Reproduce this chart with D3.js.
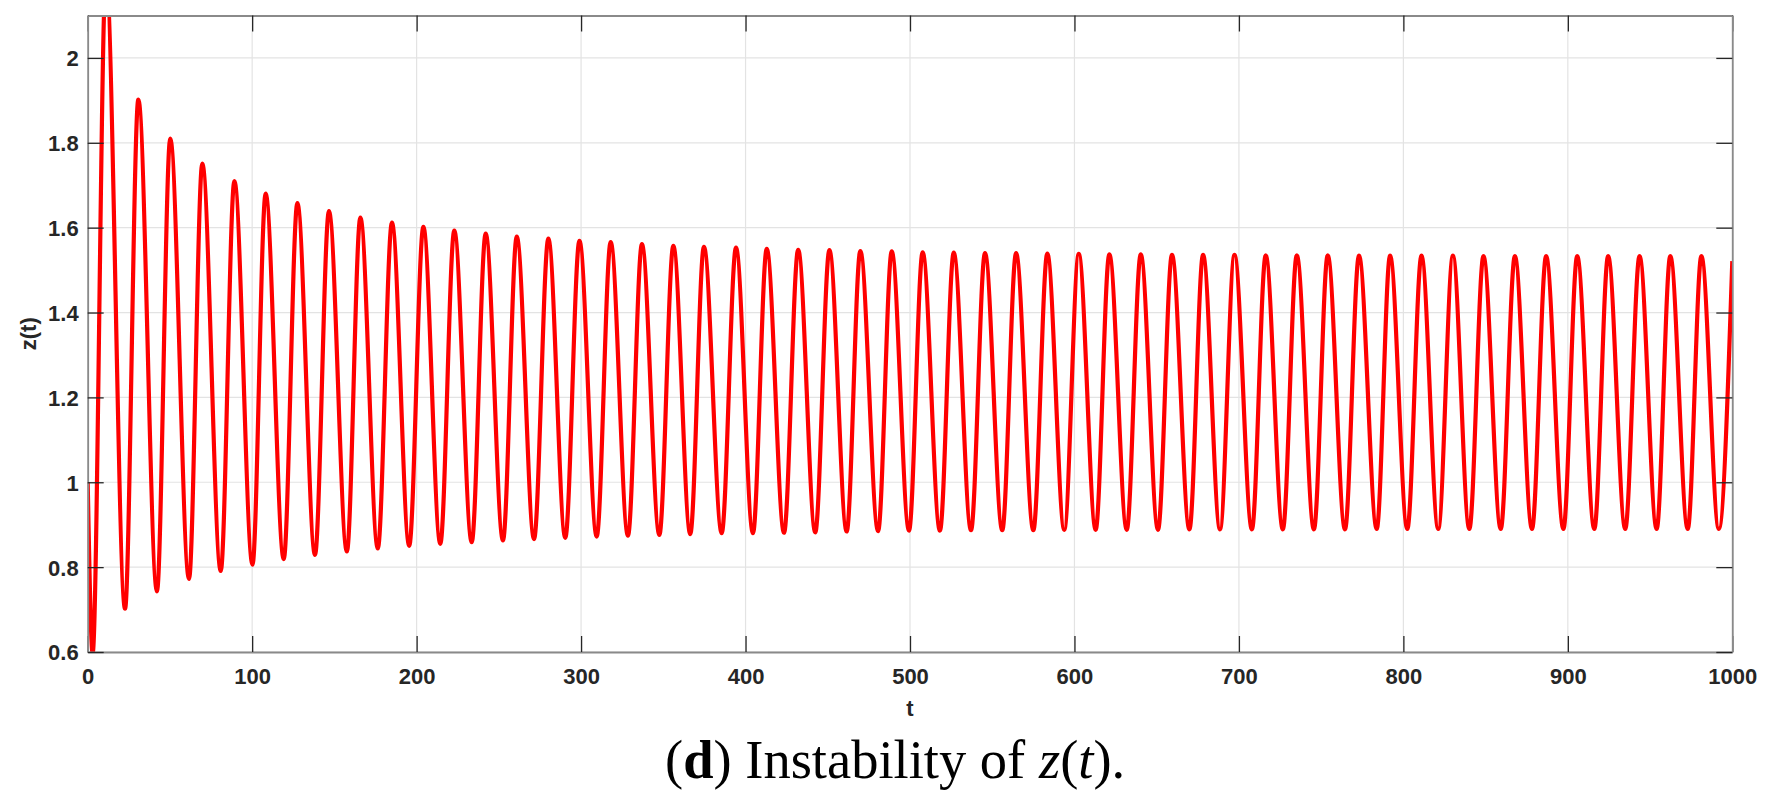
<!DOCTYPE html>
<html>
<head>
<meta charset="utf-8">
<script src="https://cdn.jsdelivr.net/npm/d3@7"></script>
<style>
  html, body { margin: 0; padding: 0; background: #fff; }
  svg { display: block; }
</style>
</head>
<body>
<div id="chart"></div>
<script>
// values: start, every trough, every peak, end
const startPoint = [0, 1.0];
const endPoint = [1000, 1.521];

const troughTimes = [3.0, 22.7, 42.1, 61.6, 80.9, 100.2, 119.2, 138.2, 157.6, 176.4,
  195.5, 214.4, 233.5, 252.5, 271.4, 290.4, 309.5, 328.5, 347.6, 366.4,
  385.5, 404.5, 423.4, 442.4, 461.5, 480.6, 499.4, 518.2, 537.1, 556.1,
  575.0, 593.8, 612.9, 631.8, 650.8, 669.9, 688.5, 707.9, 726.7, 745.6,
  764.5, 783.8, 802.4, 821.2, 840.1, 859.2, 878.2, 897.3, 916.1, 934.9,
  954.0, 972.9, 991.8];
const troughValues = [0.597, 0.702, 0.743, 0.772, 0.791, 0.806, 0.819, 0.829, 0.837, 0.844,
  0.850, 0.855, 0.859, 0.863, 0.866, 0.869, 0.872, 0.874, 0.876, 0.878,
  0.880, 0.880, 0.881, 0.882, 0.884, 0.885, 0.886, 0.886, 0.887, 0.887,
  0.887, 0.888, 0.888, 0.888, 0.888, 0.889, 0.889, 0.889, 0.889, 0.889,
  0.889, 0.890, 0.890, 0.890, 0.890, 0.890, 0.890, 0.890, 0.890, 0.890,
  0.890, 0.890, 0.890];

const peakTimes = [11.1, 30.8, 50.2, 69.7, 89.2, 108.2, 127.5, 146.7, 165.8, 185.0,
  204.1, 222.9, 242.0, 260.9, 280.1, 299.0, 318.0, 337.0, 356.1, 374.7,
  394.2, 412.9, 432.0, 451.0, 469.8, 488.9, 507.7, 526.6, 545.6, 564.5,
  583.5, 602.6, 621.2, 640.3, 659.3, 678.2, 697.3, 716.3, 735.2, 754.0,
  773.0, 791.9, 811.0, 830.1, 848.7, 867.8, 886.8, 905.7, 924.5, 943.6,
  962.3, 981.2];
const peakValues = [2.2, 1.902, 1.810, 1.751, 1.710, 1.680, 1.658, 1.639, 1.624, 1.612,
  1.602, 1.593, 1.586, 1.579, 1.574, 1.569, 1.566, 1.561, 1.557, 1.555,
  1.553, 1.550, 1.548, 1.547, 1.545, 1.544, 1.542, 1.541, 1.540, 1.540,
  1.539, 1.538, 1.537, 1.537, 1.536, 1.536, 1.536, 1.535, 1.535, 1.535,
  1.534, 1.534, 1.534, 1.534, 1.533, 1.533, 1.533, 1.533, 1.533, 1.533,
  1.533, 1.533];

const xTickValues = [0, 100, 200, 300, 400, 500, 600, 700, 800, 900, 1000];
const xTickLabels = ["0", "100", "200", "300", "400", "500", "600", "700", "800", "900", "1000"];
const yTickValues = [0.6, 0.8, 1.0, 1.2, 1.4, 1.6, 1.8, 2.0];
const yTickLabels = ["0.6", "0.8", "1", "1.2", "1.4", "1.6", "1.8", "2"];

const W = 1772, H = 807;
const plotLeft = 87.7, plotRight = 1732.3, plotTop = 15.5, plotBottom = 652;
const axisFont = "'Liberation Sans', Arial, Helvetica, sans-serif";
const textColor = "#262626";

// interleave start, troughs, peaks and end into one series
const series = [startPoint];
troughTimes.forEach(function (t, i) {
  series.push([t, troughValues[i]]);
  if (i < peakTimes.length) series.push([peakTimes[i], peakValues[i]]);
});
series.push(endPoint);

const x = d3.scaleLinear().domain([0, 1000]).range([plotLeft, plotRight]);
const y = d3.scaleLinear().domain([0.6, 2.1]).range([plotBottom, plotTop]);

const svg = d3.select("#chart").append("svg")
  .attr("width", W)
  .attr("height", H)
  .attr("viewBox", `0 0 ${W} ${H}`);

svg.append("rect").attr("width", W).attr("height", H).attr("fill", "#fff");

svg.append("defs").append("clipPath").attr("id", "plotclip")
  .append("rect")
  .attr("x", plotLeft).attr("y", plotTop)
  .attr("width", plotRight - plotLeft).attr("height", plotBottom - plotTop);

// grid
const grid = svg.append("g").attr("class", "grid");
grid.selectAll("line.gx").data(xTickValues).join("line")
  .attr("class", "gx")
  .attr("x1", d => x(d)).attr("x2", d => x(d))
  .attr("y1", plotTop).attr("y2", plotBottom)
  .attr("stroke", "#e3e3e3").attr("stroke-width", 1.2);
grid.selectAll("line.gy").data(yTickValues).join("line")
  .attr("class", "gy")
  .attr("x1", plotLeft).attr("x2", plotRight)
  .attr("y1", d => y(d)).attr("y2", d => y(d))
  .attr("stroke", "#e3e3e3").attr("stroke-width", 1.2);

// the curve
const line = d3.line()
  .x(d => x(d[0]))
  .y(d => y(d[1]))
  .curve(d3.curveMonotoneX);

svg.append("path")
  .datum(series)
  .attr("clip-path", "url(#plotclip)")
  .attr("fill", "none")
  .attr("stroke", "#ff0000")
  .attr("stroke-width", 4.2)
  .attr("stroke-linejoin", "round")
  .attr("d", line);

// axes: box with inward ticks on all four sides
const tickLen = 16;
const axB = svg.append("g").attr("transform", `translate(0,${plotBottom})`)
  .call(d3.axisBottom(x).tickValues(xTickValues).tickSizeInner(-tickLen).tickSizeOuter(0)
    .tickFormat((d, i) => xTickLabels[i]));
const axT = svg.append("g").attr("transform", `translate(0,${plotTop})`)
  .call(d3.axisTop(x).tickValues(xTickValues).tickSizeInner(-tickLen).tickSizeOuter(0)
    .tickFormat(""));
const axL = svg.append("g").attr("transform", `translate(${plotLeft},0)`)
  .call(d3.axisLeft(y).tickValues(yTickValues).tickSizeInner(-tickLen).tickSizeOuter(0)
    .tickFormat((d, i) => yTickLabels[i]));
const axR = svg.append("g").attr("transform", `translate(${plotRight},0)`)
  .call(d3.axisRight(y).tickValues(yTickValues).tickSizeInner(-tickLen).tickSizeOuter(0)
    .tickFormat(""));

[axB, axT, axL, axR].forEach(function (g) {
  g.select(".domain").attr("stroke", "#8a8a8a").attr("stroke-width", 1.8);
  g.selectAll(".tick line").attr("stroke", "#262626").attr("stroke-width", 1.3);
  g.selectAll(".tick text")
    .attr("fill", textColor)
    .style("font-family", axisFont)
    .style("font-weight", "bold")
    .style("font-size", "22px");
});
axB.selectAll(".tick text").attr("y", 31.5).attr("dy", null);
axL.selectAll(".tick text").attr("x", -9).attr("dy", "0.36em");

// axis titles
svg.append("text")
  .attr("x", (plotLeft + plotRight) / 2)
  .attr("y", 716)
  .attr("text-anchor", "middle")
  .attr("fill", textColor)
  .style("font-family", axisFont)
  .style("font-weight", "bold")
  .style("font-size", "22px")
  .text("t");

svg.append("text")
  .attr("transform", `translate(36,${(plotTop + plotBottom) / 2}) rotate(-90)`)
  .attr("text-anchor", "middle")
  .attr("fill", textColor)
  .style("font-family", axisFont)
  .style("font-weight", "bold")
  .style("font-size", "22px")
  .text("z(t)");

// caption under the figure
const caption = svg.append("text")
  .attr("x", 665)
  .attr("y", 778)
  .attr("fill", "#000")
  .style("font-family", "'Liberation Serif', 'Times New Roman', serif")
  .style("font-size", "56px");
caption.append("tspan").text("(");
caption.append("tspan").style("font-weight", "bold").text("d");
caption.append("tspan").text(") Instability of ");
caption.append("tspan").style("font-style", "italic").text("z");
caption.append("tspan").text("(");
caption.append("tspan").style("font-style", "italic").text("t");
caption.append("tspan").text(").");

// fit caption to the width it takes in the figure
const capW = caption.node().getBBox().width;
caption.style("font-size", (56 * 460 / capW).toFixed(1) + "px");
</script>
</body>
</html>
